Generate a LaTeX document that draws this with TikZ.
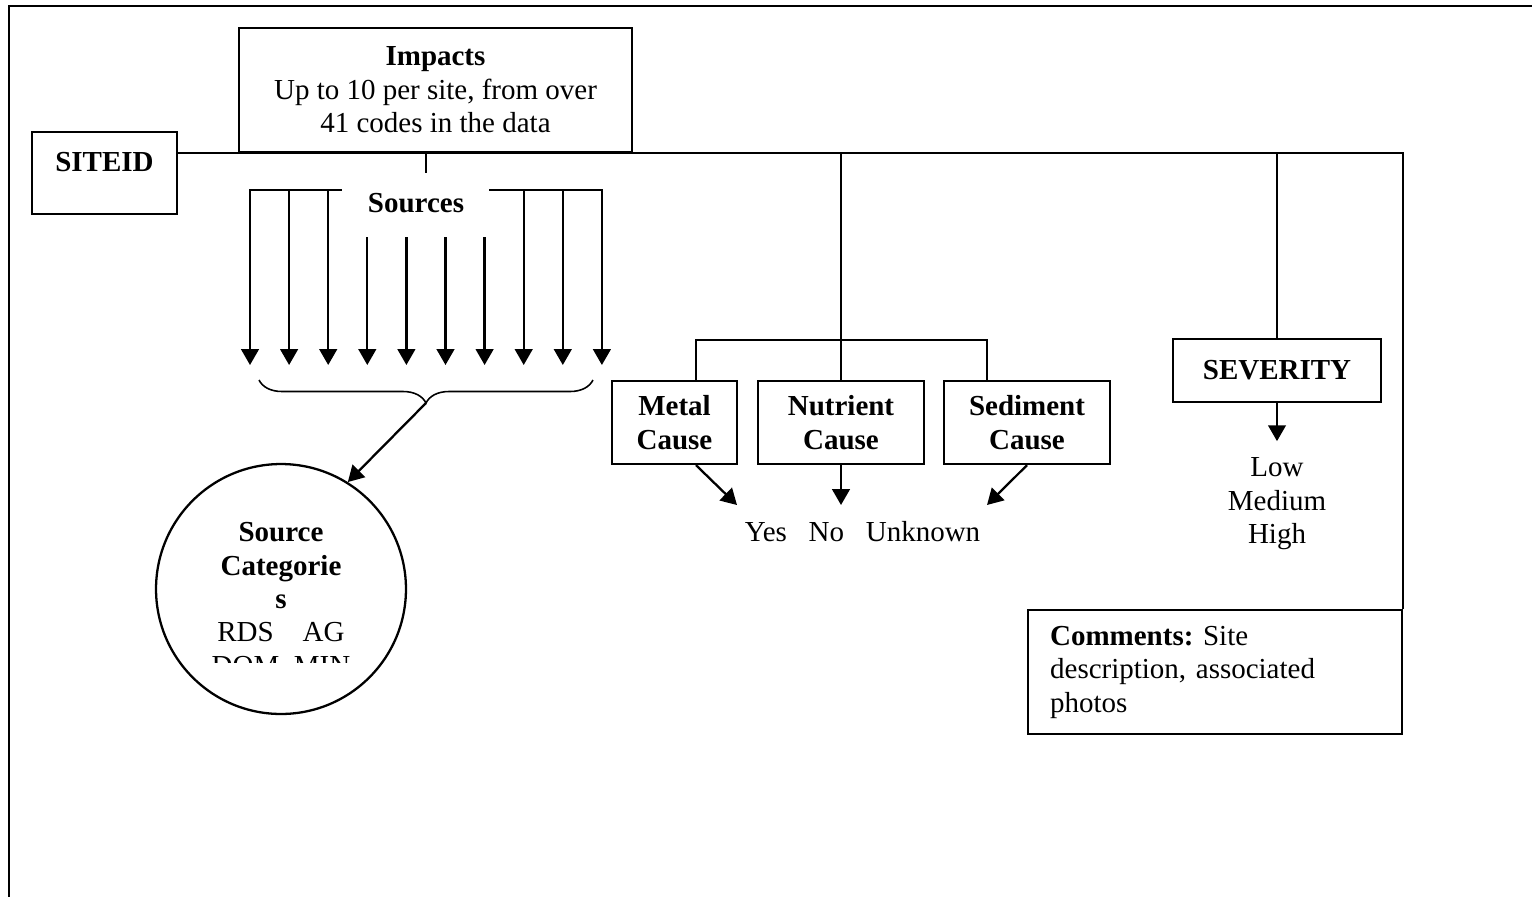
\documentclass[tikz,border=0pt]{standalone}
\usepackage{fontspec}
\setmainfont{Liberation Serif}
\usetikzlibrary{arrows.meta,decorations.pathreplacing}
\tikzset{
  box/.style={draw, align=center, inner sep=0pt},
  arr/.style={-{Triangle[width=10pt,length=9pt]}}
}
\frenchspacing
\begin{document}
\begin{tikzpicture}[x=0.02cm,y=-0.02cm,line width=1.3pt]
    \fontsize{16.5}{19}\selectfont
    \useasboundingbox (0,0) rectangle (1532,897);
    \draw (1532,6) -| (9,897);
    \node[box,minimum width=2.9cm,minimum height=1.64cm] (siteid) at (104.5,173) {};
    \node (sitetext) at (104.5,162) {\textbf{SITEID}};
    \node[box,minimum width=7.86cm,minimum height=2.48cm] (impacts) at (435.5,90) {\textbf{Impacts}\\Up to 10 per site, from over\\41 codes in the data};
    \node[box,minimum width=2.5cm,minimum height=1.66cm] (metal) at (674.5,422.5) {\textbf{Metal}\\\textbf{Cause}};
    \node[box,minimum width=3.32cm,minimum height=1.66cm] (nutrient) at (841,422.5) {\textbf{Nutrient}\\\textbf{Cause}};
    \node[box,minimum width=3.32cm,minimum height=1.66cm] (sediment) at (1027,422.5) {\textbf{Sediment}\\\textbf{Cause}};
    \node[box,minimum width=4.16cm,minimum height=1.26cm] (severity) at (1277,370.5) {\textbf{SEVERITY}};
    \node[draw,anchor=north west,text width=6.6cm,inner xsep=0.44cm,inner ysep=0pt,minimum height=2.48cm,align=left] (comments) at (1027,609) {\textbf{Comments:} Site\\description, associated\\photos};
    \node[draw,circle,minimum size=5cm,inner sep=0pt] (srccat) at (281,589) {};
    \begin{scope}
        \clip (150,450) rectangle (420,662);
        \node[align=center] (cattext) at (281,599) {\textbf{Source}\\\textbf{Categorie}\\\textbf{s}\\RDS\quad AG\\DOM\enspace MIN};
    \end{scope}
    \draw (siteid.east |- impacts.south) -| (comments.north east);
    \draw ([xshift=-0.19cm]impacts.south) -- ++(0,20);
    \node (sources) at (416,203) {\textbf{Sources}};
    \draw (249,190) -- (342,190);
    \draw (489,190) -- (603,190);
    \foreach \i in {0,1,2,7,8,9} \draw[arr] ({250+39.1*\i},190) -- ++(0,175);
    \foreach \i in {3,...,6} \draw[arr] ({250+39.1*\i},237) -- ++(0,128);
    \draw[decorate,decoration={brace,amplitude=0.46cm,mirror},line width=0.9pt] (259,380) -- (593,380);
    \coordinate (bracetip) at (426,403);
    \draw[arr] (bracetip) -- (srccat.58);
    \coordinate (split) at (841,340);
    \draw (nutrient.north |- impacts.south) -- (nutrient.north);
    \draw ([xshift=0.43cm]metal.north) |- (split) -| ([xshift=-0.8cm]sediment.north);
    \node (answers) at (862.5,532) {Yes~~~No~~~Unknown};
    \coordinate (yes) at (737,505);
    \coordinate (no) at (841,505);
    \coordinate (unk) at (987,505);
    \draw[arr] ([xshift=0.43cm]metal.south) -- (yes);
    \draw[arr] (nutrient.south) -- (no);
    \draw[arr] (sediment.south) -- (unk);
    \draw (severity.north |- impacts.south) -- (severity.north);
    \draw[arr] (severity.south) -- ++(0,38);
    \node[align=center] (levels) at (1277,504) {Low\\Medium\\High};
\end{tikzpicture}
\end{document}
